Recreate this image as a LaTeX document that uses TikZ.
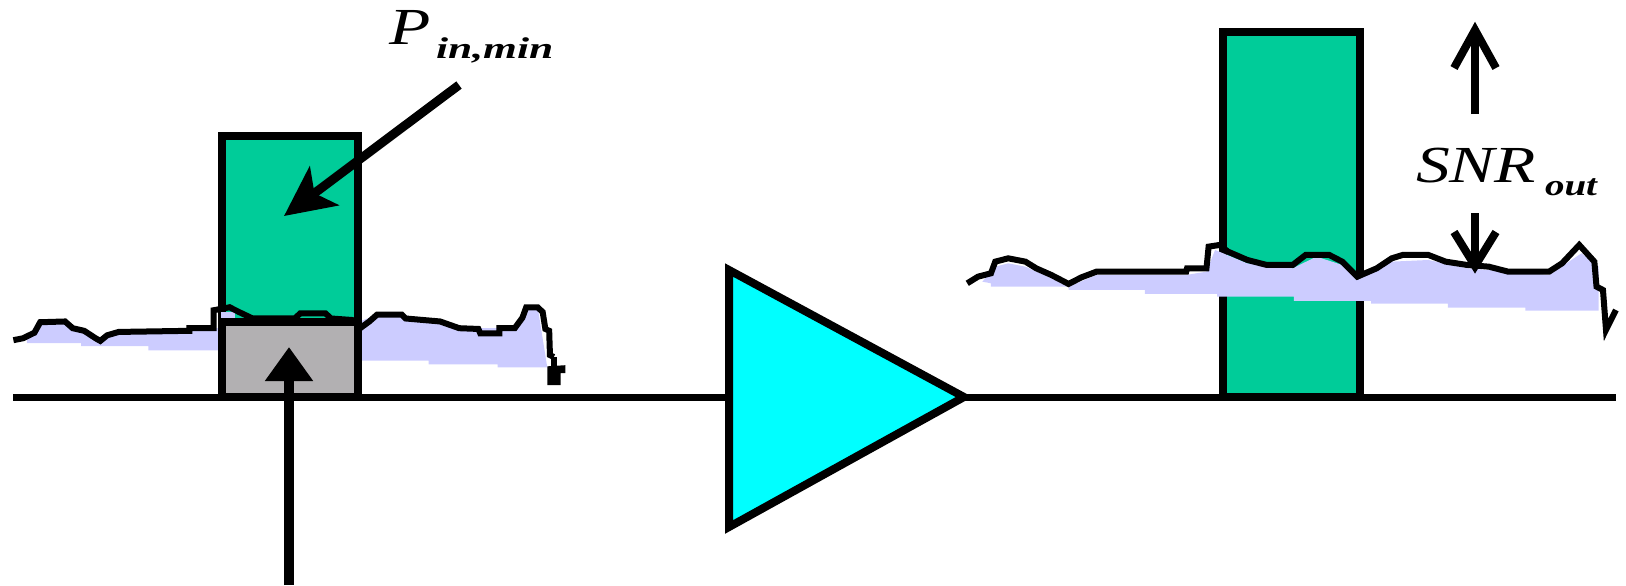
\documentclass[tikz,border=0pt]{standalone}
\usepackage{fontspec}
\setmainfont{Liberation Serif}
\usetikzlibrary{arrows.meta}
\definecolor{sig}{HTML}{00CC99}
\definecolor{noisef}{HTML}{CCCCFF}
\definecolor{floorg}{HTML}{B2B0B2}
\definecolor{ampc}{HTML}{00FFFF}
\tikzset{
  x=0.5pt,y=-0.5pt,
  boxst/.style={draw=black,line width=4pt,inner sep=0pt,outer sep=0pt,anchor=north west},
  axisline/.style={line width=3.5pt,black},
  noiseline/.style={line width=3pt,black,line join=miter},
  noisefill/.style={fill=noisef,draw=none},
  shaft/.style={line width=4.5pt,black},
  barb/.style={line width=4pt,black,line join=miter},
  lbl/.style={inner sep=0pt,outer sep=0pt,anchor=base west,text=black}
}
\newcommand{\bigital}[2]{\scalebox{#1}[1]{\fontsize{26}{26}\selectfont\itshape #2}}
\newcommand{\subital}[2]{\scalebox{#1}[1]{\fontsize{15}{15}\selectfont\bfseries\itshape #2}}
\begin{document}
\begin{tikzpicture}
\useasboundingbox (0,0) rectangle (1626,585);
% left noise fill
\begin{scope}[shift={(0,0)},xscale=0.3827,yscale=0.3738]
\path[noisefill] (70,905)--(90,890)--(105,862)--(170,860)--(190,878)--(220,885)--(250,905)--(262,912)--(280,897)--(310,888)--(495,885)--(558,878)--(940,860)--(985,842)--(1050,842)--(1150,860)--(1200,878)--(1345,878)--(1375,822)--(1405,822)--(1430,983)--(1300,983)--(1300,975)--(1120,975)--(1120,965)--(942,965)--(567,937)--(388,937)--(388,926)--(212,926)--(212,918)--(70,918)--cycle;
\end{scope}
% boxes
\node[boxst,fill=sig,minimum width=136pt*0.5,minimum height=261pt*0.5] (box1) at (222,136) {};
\node[boxst,fill=floorg,minimum width=136pt*0.5,minimum height=75pt*0.5] (floor1) at (222,322) {};
\node[boxst,fill=sig,minimum width=137pt*0.5,minimum height=365pt*0.5] (box2) at (1223,32) {};
% right noise fill and lines
\begin{scope}[shift={(950,0)},xscale=0.431,yscale=0.3333]
\path[noisefill] (75,845)--(105,800)--(135,790)--(175,800)--(235,835)--(275,860)--(340,825)--(548,825)--(595,815)--(615,750)--(690,790)--(795,805)--(850,770)--(910,795)--(945,840)--(1025,785)--(1110,780)--(1200,805)--(1390,825)--(1465,760)--(1505,800)--(1505,932)--(1335,932)--(1335,923)--(1155,923)--(1155,911)--(977,911)--(977,903)--(798,903)--(798,890)--(620,890)--(620,882)--(452,882)--(452,870)--(275,870)--(275,860)--(95,860)--(95,850)--cycle;
\draw[noiseline] (40,850)--(65,830)--(95,820)--(105,785)--(135,775)--(175,785)--(200,805)--(235,825)--(265,845)--(275,852)--(305,832)--(340,815)--(548,815)--(550,805)--(595,805)--(600,740)--(625,735)--(645,755)--(690,780)--(735,795)--(795,795)--(825,765)--(880,765)--(910,785)--(945,830)--(990,805)--(1025,775)--(1050,765)--(1110,765)--(1150,785)--(1200,795)--(1250,800)--(1295,815)--(1390,815)--(1420,790)--(1460,735)--(1495,785)--(1500,860)--(1515,870)--(1522,990)--(1545,930);
\end{scope}
% left noise line
\begin{scope}[xscale=0.3827,yscale=0.3738]
\path[noisefill] (578,835)--(615,835)--(615,850)--(578,850)--cycle;
\draw[noiseline] (35,910)--(60,905)--(90,890)--(105,862)--(170,860)--(190,878)--(220,885)--(250,905)--(262,912)--(280,897)--(310,888)--(495,885)--(495,878)--(558,878)--(558,830)--(600,822)--(625,835)--(660,852)--(770,852)--(785,838)--(850,838)--(865,852)--(920,856)--(945,875)--(965,860)--(985,842)--(1050,842)--(1060,852)--(1150,860)--(1200,878)--(1250,880)--(1255,892)--(1305,892)--(1305,878)--(1345,878)--(1365,850)--(1375,822)--(1405,822)--(1418,835)--(1425,880)--(1435,885)--(1437,950)--(1447,955);
\fill[black] (1430,980)--(1477,977)--(1477,998)--(1465,998)--(1465,1030)--(1430,1030)--cycle;
\draw[noiseline] (1447,955)--(1447,985);
\end{scope}
% axis
\coordinate (axL) at (13,397);
\coordinate (axR) at (1616,397);
\coordinate (ampA) at (729,270);
\coordinate (ampB) at (729,527);
\coordinate (ampT) at (964,397);
\draw[axisline] (axL)--(axR);
\draw[line width=4pt,fill=ampc,line join=miter] (ampA)--(ampT)--(ampB)--cycle;
% Pin arrows
\coordinate (pinS) at (459,85);
\coordinate (pinE) at (284,216);
\draw[shaft,-{Stealth[length=25pt,width=24pt,inset=6pt]}] (pinS)--(pinE);
\coordinate (upS) at (289,585);
\coordinate (upE) at (289,347);
\draw[line width=5pt,black,-{Triangle[length=17pt,width=23pt]}] (upS)--(upE);
% SNR arrows
\coordinate (snrU0) at (1475,114);
\coordinate (snrU1) at (1475,30);
\coordinate (snrUL) at (1454,68);
\coordinate (snrUR) at (1496,68);
\draw[barb] (snrU0)--(snrU1);
\draw[barb] (snrUL)--(snrU1)--(snrUR);
\coordinate (snrD0) at (1475,213);
\coordinate (snrD1) at (1475,266);
\coordinate (snrDL) at (1454,232);
\coordinate (snrDR) at (1496,232);
\draw[barb] (snrD0)--(snrD1);
\draw[barb] (snrDL)--(snrD1)--(snrDR);
% labels
\node[lbl] (pinlabel) at (389,44) {\bigital{1.3}{P}};
\node[lbl] (pinsub) at (436,58) {\subital{1.45}{in,min}};
\node[lbl] (snrlabel) at (1416,182) {\bigital{1.3}{SNR}};
\node[lbl] (snrsub) at (1545,195) {\subital{1.3}{out}};
\end{tikzpicture}
\end{document}
